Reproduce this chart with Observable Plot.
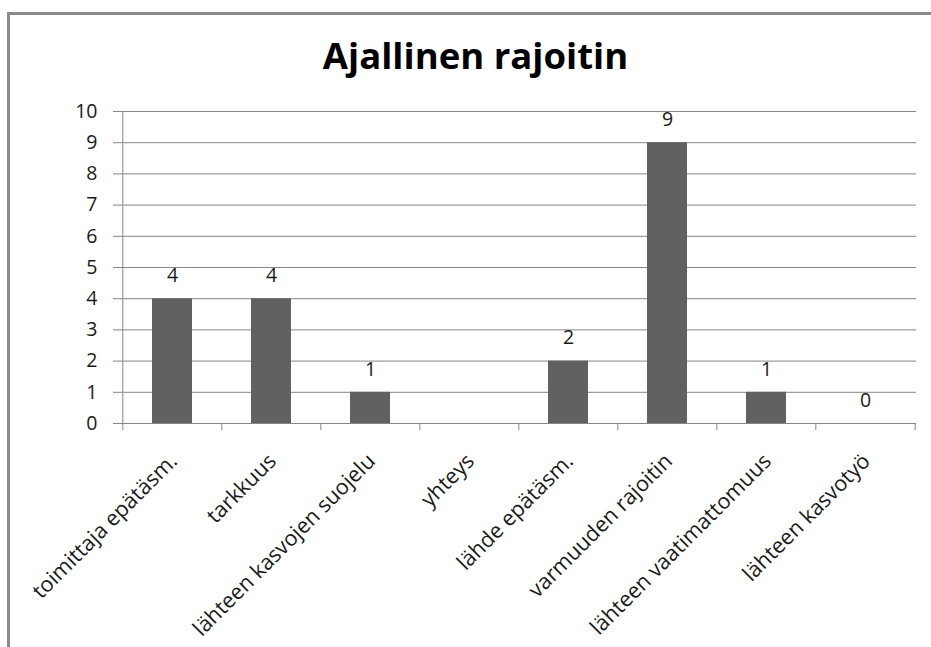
<!DOCTYPE html>
<html>
<head>
<meta charset="utf-8">
<script src="https://cdn.jsdelivr.net/npm/d3@7"></script>
<script src="https://cdn.jsdelivr.net/npm/@observablehq/plot@0.6"></script>
<style>
  html, body { margin: 0; padding: 0; background: #fff; }
  #wrap { position: relative; width: 931px; height: 647px; overflow: hidden; font-family: "Open Sans", sans-serif; }
  #border { position: absolute; left: 7px; top: 12px; right: -10px; bottom: -10px; border-top: 3px solid #8a8a8a; border-left: 3px solid #8a8a8a; }
  #title { position: absolute; left: 0; width: 951px; top: 30px; text-align: center; font-weight: 700; font-size: 36.5px; line-height: 50px; color: #000; }
  #chart { position: absolute; left: 0; top: 0; }
</style>
</head>
<body>
<div id="wrap">
  <div id="border"></div>
  <div id="title">Ajallinen rajoitin</div>
  <div id="chart"></div>
</div>
<script>
const categories = [
  "toimittaja epätäsm.",
  "tarkkuus",
  "lähteen kasvojen suojelu",
  "yhteys",
  "lähde epätäsm.",
  "varmuuden rajoitin",
  "lähteen vaatimattomuus",
  "lähteen kasvotyö"
];
const values = [4, 4, 1, null, 2, 9, 1, 0];
const yTicks = [0, 1, 2, 3, 4, 5, 6, 7, 8, 9, 10];

const data = categories.map((c, i) => ({category: c, value: values[i]}));

const W = 931, H = 647, mL = 121, mR = 15, mT = 111, mB = 224;
const step = (W - mL - mR) / categories.length;
const grid = "#868686";

const chart = Plot.plot({
  width: W,
  height: H,
  marginLeft: mL,
  marginRight: mR,
  marginTop: mT,
  marginBottom: mB,
  style: {fontFamily: "Open Sans, sans-serif", fontSize: "18px", color: "#1a1a1a", background: "transparent"},
  x: {domain: categories, paddingInner: 0.6, paddingOuter: 0.3, axis: null},
  y: {domain: [0, 10], axis: null},
  marks: [
    Plot.gridY(yTicks.slice(1), {stroke: grid, strokeOpacity: 1, insetLeft: -8}),
    Plot.ruleY([0], {stroke: grid, insetLeft: -8}),
    Plot.ruleX(categories.slice(0, 1), {x: d => d, dx: -step / 2, y1: 10, y2: 0, stroke: grid, insetBottom: -7}),
    Plot.ruleX(categories.slice(1), {x: d => d, dx: -step / 2, y1: 0, y2: 0, stroke: grid, insetBottom: -7}),
    Plot.ruleX(categories.slice(-1), {x: d => d, dx: step / 2, y1: 0, y2: 0, stroke: grid, insetBottom: -7}),
    Plot.axisY({ticks: yTicks, tickSize: 0, tickPadding: 24, label: null, fontSize: 19.5, fill: "#1a1a1a"}),
    Plot.barY(data.filter(d => d.value != null), {x: "category", y: "value", fill: "#616161"}),
    Plot.text(data.filter(d => d.value != null), {x: "category", y: "value", text: d => String(d.value), dy: -23, fontSize: 19.5, fill: "#1a1a1a"}),
    Plot.text(categories, {x: d => d, frameAnchor: "bottom", rotate: -45, textAnchor: "end", lineAnchor: "bottom", dx: 6, dy: 39, fontSize: 21.5, fill: "#1a1a1a"})
  ]
});
document.getElementById("chart").appendChild(chart);
</script>
</body>
</html>
